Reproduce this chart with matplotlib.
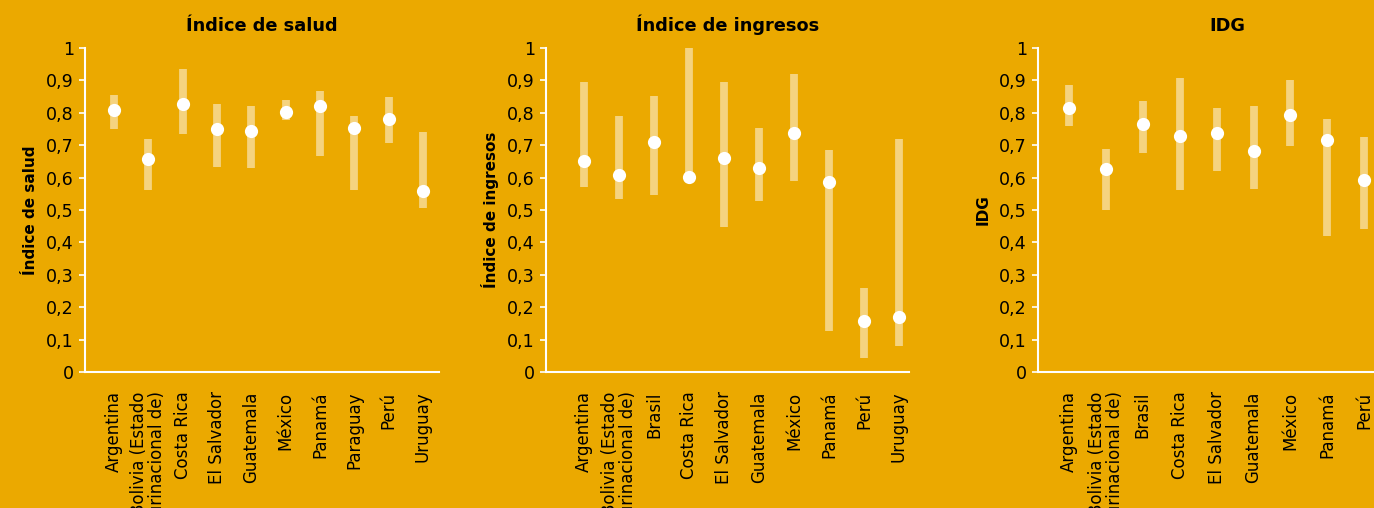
import matplotlib.pyplot as plt
import numpy as np

plt.rcParams['font.family'] = ['Liberation Sans Narrow', 'DejaVu Sans']

bg = '#EBA900'
bar_color = '#F5D37F'

# Índice de salud
paises_salud = ['Argentina', 'Bolivia (Estado\nPlurinacional de)', 'Costa Rica', 'El Salvador',
                'Guatemala', 'México', 'Panamá', 'Paraguay', 'Perú', 'Uruguay']
salud = [0.808, 0.657, 0.828, 0.751, 0.743, 0.803, 0.820, 0.752, 0.780, 0.558]
salud_min = [0.750, 0.562, 0.735, 0.633, 0.630, 0.778, 0.667, 0.562, 0.707, 0.507]
salud_max = [0.855, 0.719, 0.935, 0.827, 0.821, 0.840, 0.867, 0.790, 0.849, 0.741]

# Índice de ingresos
paises_ingresos = ['Argentina', 'Bolivia (Estado\nPlurinacional de)', 'Brasil', 'Costa Rica',
                   'El Salvador', 'Guatemala', 'México', 'Panamá', 'Perú', 'Uruguay']
ingresos = [0.651, 0.607, 0.710, 0.602, 0.659, 0.631, 0.739, 0.587, 0.158, 0.170]
ingresos_min = [0.571, 0.534, 0.547, 0.600, 0.448, 0.528, 0.590, 0.127, 0.044, 0.081]
ingresos_max = [0.895, 0.790, 0.852, 1.006, 0.895, 0.753, 0.920, 0.686, 0.260, 0.719]

# IDG
paises_idg = ['Argentina', 'Bolivia (Estado\nPlurinacional de)', 'Brasil', 'Costa Rica',
              'El Salvador', 'Guatemala', 'México', 'Panamá', 'Perú']
idg = [0.814, 0.628, 0.765, 0.727, 0.739, 0.682, 0.794, 0.717, 0.592]
idg_min = [0.760, 0.501, 0.676, 0.562, 0.621, 0.565, 0.698, 0.420, 0.442]
idg_max = [0.886, 0.689, 0.837, 0.908, 0.815, 0.821, 0.901, 0.781, 0.726]

W, H = 1374, 508
fig = plt.figure(figsize=(W / 100, H / 100), dpi=100, facecolor=bg)

paneles = [
    ('Índice de salud', paises_salud, salud, salud_min, salud_max, (85, 439), (-0.85, 9.47)),
    ('Índice de ingresos', paises_ingresos, ingresos, ingresos_min, ingresos_max, (546, 909), (-1.09, 9.29)),
    ('IDG', paises_idg, idg, idg_min, idg_max, (1038, 1416), (-0.84, 9.4)),
]

y_top, y_bot = 48, 372
for titulo, paises, val, vmin, vmax, (x0, x1), xlim in paneles:
    ax = fig.add_axes([x0 / W, 1 - y_bot / H, (x1 - x0) / W, (y_bot - y_top) / H])
    ax.set_facecolor(bg)
    x = np.arange(len(paises))
    ax.vlines(x, vmin, vmax, color=bar_color, lw=5.6, zorder=2)
    ax.plot(x, val, 'o', color='white', ms=9.5, mec='none', zorder=3, clip_on=False)
    ax.set_xlim(*xlim)
    ax.set_ylim(0, 1)
    ax.set_yticks(np.arange(0, 1.01, 0.1))
    ax.set_yticklabels(['0'] + [f'0,{i}' for i in range(1, 10)] + ['1'], fontsize=12.6)
    ax.set_xticks(x)
    ax.set_xticklabels(paises, rotation=90, fontsize=12, linespacing=1.0,
                       multialignment='right')
    ax.tick_params(axis='x', length=0, pad=14)
    ax.tick_params(axis='y', length=4, width=1.2, color='white', pad=4)
    for s in ['top', 'right']:
        ax.spines[s].set_visible(False)
    for s in ['left', 'bottom']:
        ax.spines[s].set_color('white')
        ax.spines[s].set_linewidth(1.5)
    ax.set_title(titulo, fontsize=12.8, fontweight='bold', pad=12)
    ax.set_ylabel(titulo, fontsize=11, fontweight='bold', labelpad=6)

fig.savefig('out.png', dpi=100, facecolor=bg)
